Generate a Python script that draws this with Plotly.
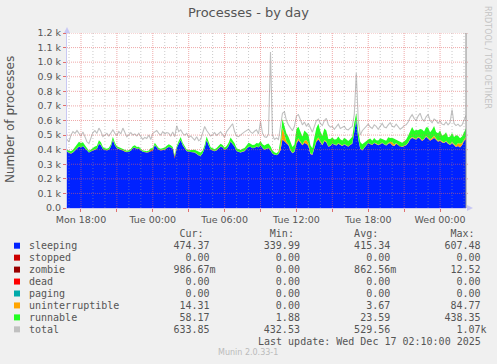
import pandas as pd
import plotly.graph_objects as go

# ---------------- data (10-minute samples, Mon 16:50 -> Wed 02:10) ----------------
start_time = "2025-12-15 16:50"
n_points = 201

sleeping = [
    385, 378, 372, 380, 395, 405, 420, 415, 425, 410,
    395, 380, 388, 395, 400, 405, 440, 430, 405, 398,
    395, 400, 420, 465, 430, 410, 405, 400, 395, 385,
    383, 385, 392, 410, 412, 405, 408, 395, 385, 383,
    380, 383, 388, 395, 430, 415, 400, 395, 398, 400,
    410, 418, 415, 405, 340, 410, 440, 465, 430, 405,
    390, 385, 383, 385, 380, 370, 360, 358, 375, 410,
    465, 430, 400, 395, 390, 395, 410, 420, 415, 400,
    405, 425, 455, 440, 420, 390, 383, 380, 385, 390,
    405, 420, 418, 410, 412, 420, 415, 430, 410, 400,
    405, 410, 395, 372, 365, 362, 370, 395, 470, 455,
    440, 430, 395, 375, 385, 440, 465, 450, 430, 445,
    440, 425, 370, 365, 420, 455, 470, 445, 430, 460,
    450, 420, 425, 440, 432, 428, 440, 430, 425, 435,
    428, 420, 432, 440, 520, 605, 470, 405, 395, 410,
    430, 445, 438, 432, 445, 440, 430, 438, 445, 435,
    428, 440, 445, 430, 425, 440, 432, 420, 418, 425,
    430, 445, 470, 480, 475, 468, 482, 475, 460, 470,
    488, 475, 462, 470, 480, 468, 455, 462, 450, 445,
    455, 440, 432, 445, 430, 418, 425, 415, 430, 460,
    474,
]

runnable = [
    10, 12, 15, 18, 25, 30, 32, 28, 25, 20,
    12, 10, 12, 15, 18, 20, 22, 18, 12, 10,
    10, 12, 15, 20, 15, 12, 10, 12, 10, 8,
    8, 10, 10, 12, 15, 12, 10, 10, 8, 8,
    8, 10, 12, 12, 15, 12, 10, 10, 12, 12,
    15, 18, 15, 12, 10, 12, 18, 20, 15, 12,
    10, 10, 12, 15, 18, 20, 22, 20, 18, 20,
    22, 18, 15, 12, 12, 15, 15, 18, 15, 12,
    18, 22, 25, 25, 22, 18, 15, 15, 18, 20,
    22, 25, 22, 20, 20, 22, 25, 28, 25, 25,
    30, 28, 25, 20, 15, 12, 15, 40, 60, 70,
    55, 50, 45, 40, 45, 90, 80, 60, 55, 70,
    50, 60, 55, 40, 60, 85, 95, 70, 60, 80,
    75, 50, 45, 40, 35, 40, 45, 38, 35, 42,
    40, 35, 38, 45, 60, 40, 50, 45, 40, 35,
    30, 22, 35, 25, 32, 20, 30, 38, 24, 28,
    30, 40, 26, 30, 38, 22, 28, 34, 25, 30,
    35, 45, 55, 68, 50, 62, 45, 60, 72, 50,
    60, 70, 48, 55, 66, 45, 52, 64, 42, 52,
    58, 40, 52, 62, 48, 70, 50, 38, 45, 55,
    58,
]

uninterruptible = [
    1, 1, 2, 1, 0, 1, 2, 1, 1, 0,
    1, 1, 0, 1, 2, 1, 1, 2, 1, 1,
    0, 1, 1, 2, 1, 1, 0, 1, 1, 1,
    1, 0, 1, 1, 2, 1, 1, 1, 0, 1,
    1, 1, 2, 1, 1, 0, 1, 1, 1, 2,
    1, 1, 0, 1, 2, 1, 1, 1, 2, 1,
    1, 0, 1, 1, 1, 2, 1, 1, 0, 1,
    2, 1, 1, 1, 0, 1, 1, 2, 1, 1,
    1, 1, 2, 1, 1, 0, 1, 1, 2, 1,
    1, 1, 0, 1, 1, 2, 1, 1, 1, 2,
    2, 3, 2, 1, 1, 1, 2, 30, 80, 40,
    15, 8, 5, 3, 4, 10, 12, 5, 4, 15,
    25, 18, 5, 3, 5, 8, 12, 10, 5, 6,
    5, 3, 3, 2, 2, 3, 4, 3, 2, 3,
    2, 3, 2, 3, 4, 5, 3, 2, 2, 2,
    3, 2, 2, 3, 2, 3, 2, 2, 3, 2,
    3, 4, 8, 20, 10, 4, 3, 2, 3, 2,
    3, 4, 5, 6, 5, 4, 5, 6, 5, 4,
    5, 6, 8, 10, 15, 8, 5, 4, 5, 4,
    5, 4, 5, 6, 8, 10, 20, 25, 15, 10,
    14,
]

zombie = [
    1, 1, 1, 1, 1, 1, 1, 1, 0, 1,
    1, 1, 1, 1, 1, 1, 1, 1, 1, 1,
    1, 1, 1, 1, 1, 0, 1, 1, 1, 1,
    1, 1, 1, 1, 1, 1, 1, 1, 1, 1,
    1, 1, 8, 1, 1, 1, 1, 1, 1, 1,
    1, 1, 1, 1, 12, 1, 1, 1, 1, 1,
    1, 1, 1, 0, 1, 1, 1, 1, 1, 1,
    1, 1, 1, 1, 1, 1, 1, 1, 1, 1,
    1, 0, 1, 1, 1, 1, 1, 1, 1, 1,
    1, 1, 1, 1, 1, 1, 1, 1, 1, 1,
    1, 1, 1, 1, 1, 1, 0, 1, 1, 1,
    1, 1, 1, 1, 1, 1, 1, 1, 1, 1,
    1, 1, 1, 1, 1, 1, 1, 1, 1, 0,
    1, 1, 1, 1, 1, 1, 1, 1, 1, 1,
    1, 1, 1, 1, 1, 1, 1, 1, 1, 1,
    1, 0, 1, 1, 1, 1, 1, 1, 1, 1,
    1, 1, 1, 1, 1, 1, 1, 1, 1, 1,
    1, 1, 1, 1, 0, 1, 1, 1, 1, 1,
    1, 1, 1, 1, 1, 1, 1, 1, 1, 1,
    1, 1, 1, 1, 1, 1, 1, 1, 1, 1,
    1,
]

stopped = [0.0] * n_points
dead = [0.0] * n_points
paging = [0.0] * n_points

total = [
    470, 454, 500, 524, 512, 531, 512, 494, 522, 489,
    454, 442, 484, 517, 531, 512, 548, 524, 489, 500,
    512, 494, 517, 536, 512, 498, 524, 508, 548, 512,
    489, 503, 517, 500, 508, 494, 512, 489, 470, 484,
    477, 500, 470, 512, 524, 531, 512, 500, 524, 508,
    517, 512, 494, 522, 489, 564, 524, 536, 512, 500,
    512, 484, 494, 477, 466, 489, 461, 470, 512, 559,
    531, 512, 494, 503, 517, 498, 512, 522, 503, 484,
    524, 540, 559, 578, 524, 494, 489, 503, 512, 522,
    531, 540, 522, 512, 526, 536, 508, 595, 512, 489,
    484, 505, 1070, 500, 470, 480, 470, 560, 650, 660,
    600, 570, 545, 530, 560, 630, 640, 600, 570, 590,
    560, 580, 545, 520, 560, 600, 610, 580, 565, 600,
    615, 570, 555, 560, 540, 555, 575, 545, 550, 560,
    540, 535, 550, 560, 640, 926, 600, 500, 530, 545,
    560, 575, 555, 545, 570, 560, 540, 565, 580, 555,
    550, 570, 585, 560, 555, 575, 560, 540, 550, 565,
    570, 590, 620, 640, 615, 600, 630, 650, 610, 595,
    625, 640, 600, 585, 610, 600, 580, 595, 575, 570,
    590, 570, 585, 675, 580, 565, 575, 560, 570, 610,
    634,
]

# legend table values (as shown)
legend_names = ["sleeping", "stopped", "zombie", "dead", "paging",
                "uninterruptible", "runnable", "total"]
legend_colors = ["#0022ff", "#cc0000", "#990000", "#ff0000", "#00aaaa",
                 "#ffa500", "#22ff22", "#c0c0c0"]
cur_vals = ["474.37", "0.00", "986.67m", "0.00", "0.00", "14.31", "58.17", "633.85"]
min_vals = ["339.99", "0.00", "0.00", "0.00", "0.00", "0.00", "1.88", "432.53"]
avg_vals = ["415.34", "0.00", "862.56m", "0.00", "0.00", "3.67", "23.59", "529.56"]
max_vals = ["607.48", "0.00", "12.52", "0.00", "0.00", "84.77", "438.35", "1.07k"]

y_tick_vals = [0, 100, 200, 300, 400, 500, 600, 700, 800, 900, 1000, 1100, 1200]
y_tick_text = ["0.0", "0.1 k", "0.2 k", "0.3 k", "0.4 k", "0.5 k", "0.6 k",
               "0.7 k", "0.8 k", "0.9 k", "1.0 k", "1.1 k", "1.2 k"]
x_tick_vals = ["2025-12-15 18:00", "2025-12-15 21:00", "2025-12-16 00:00",
               "2025-12-16 03:00", "2025-12-16 06:00", "2025-12-16 09:00",
               "2025-12-16 12:00", "2025-12-16 15:00", "2025-12-16 18:00",
               "2025-12-16 21:00", "2025-12-17 00:00"]
x_tick_text = ["Mon 18:00", "", "Tue 00:00", "", "Tue 06:00", "",
               "Tue 12:00", "", "Tue 18:00", "", "Wed 00:00"]
x_range = ["2025-12-15 16:50", "2025-12-17 02:10"]

times = pd.date_range(start_time, periods=n_points, freq="10min")

# ---------------- geometry helpers ----------------
W, H = 497, 364
L, R, T, B = 67, 466, 33, 208


def px(x):
    return (x - L) / (R - L)


def py(y):
    return (B - y) / (B - T)


TXT = "#555555"
SANS = "DejaVu Sans"
MONO = "DejaVu Sans Mono"

fig = go.Figure()

stack = [
    ("sleeping", sleeping), ("stopped", stopped), ("zombie", zombie),
    ("dead", dead), ("paging", paging), ("uninterruptible", uninterruptible),
    ("runnable", runnable),
]
for name, vals in stack:
    col = legend_colors[legend_names.index(name)]
    fig.add_trace(go.Scatter(
        x=times, y=vals, name=name, mode="lines", stackgroup="procs",
        line=dict(width=0, color=col), fillcolor=col,
        showlegend=False, hoverinfo="skip"))

fig.add_trace(go.Scatter(
    x=times, y=total, name="total", mode="lines",
    line=dict(color="#c0c0c0", width=1.1), showlegend=False, hoverinfo="skip"))

shapes = []
# horizontal grid (above areas, like rrdtool)
for v in y_tick_vals[1:]:
    shapes.append(dict(type="line", xref="paper", yref="y",
                       x0=px(L), x1=px(R + 3), y0=v, y1=v, layer="above",
                       line=dict(color="rgba(225,100,100,0.55)", width=1, dash="1px,1px")))
# vertical grid: hourly minor, 3-hourly major
for h in pd.date_range("2025-12-15 17:00", "2025-12-17 02:00", freq="h"):
    major = h.hour % 3 == 0
    shapes.append(dict(type="line", xref="x", yref="paper",
                       x0=h, x1=h, y0=0, y1=1, layer="above",
                       line=dict(color="rgba(225,100,100,0.55)" if major else "rgba(150,150,150,0.5)",
                                 width=1, dash="1px,1px" if major else "1px,2px")))
# right frame line
shapes.append(dict(type="line", xref="paper", yref="paper", x0=1, x1=1, y0=0, y1=1,
                   layer="above", line=dict(color="#8c8c8c", width=1)))
# axis arrows
ax_col = "#c8c8f4"
shapes.append(dict(type="path", xref="paper", yref="paper", layer="above",
                   path=f"M {px(67)},{py(27)} L {px(64)},{py(33)} L {px(70)},{py(33)} Z",
                   fillcolor=ax_col, line=dict(width=0)))
shapes.append(dict(type="path", xref="paper", yref="paper", layer="above",
                   path=f"M {px(473)},{py(208)} L {px(467)},{py(205)} L {px(467)},{py(211)} Z",
                   fillcolor=ax_col, line=dict(width=0)))

annotations = []
# title
annotations.append(dict(text="Processes - by day", xref="paper", yref="paper",
                        x=px(248.5), y=py(13), xanchor="center", yanchor="middle",
                        showarrow=False, font=dict(family=SANS, size=13, color=TXT)))
# y title
annotations.append(dict(text="Number of processes", xref="paper", yref="paper",
                        x=px(10), y=py(120), xanchor="center", yanchor="middle",
                        textangle=-90, showarrow=False,
                        font=dict(family=SANS, size=12, color=TXT)))
# watermark
annotations.append(dict(text="RRDTOOL / TOBI OETIKER", xref="paper", yref="paper",
                        x=px(488), y=py(57), xanchor="center", yanchor="middle",
                        textangle=90, showarrow=False,
                        font=dict(family=SANS, size=8, color="#c4c4c4")))

# legend table
X0 = 26.7
header = " " * 25 + "Cur:" + " " * 11 + "Min:" + " " * 10 + "Avg:" + " " * 12 + "Max:"
annotations.append(dict(text=header.replace(" ", "\u00a0"), xref="paper", yref="paper",
                        x=px(X0), y=py(233.3), xanchor="left", yanchor="middle",
                        showarrow=False, font=dict(family=MONO, size=10, color=TXT)))


def cell(s):
    if s[-1].isalpha():
        num, suf = s[:-1], s[-1]
    else:
        num, suf = s, " "
    return num.rjust(6) + suf + " " * 8


row_y0, row_dy = 245.7, 11.95
for k, name in enumerate(legend_names):
    yy = row_y0 + k * row_dy
    line = name.ljust(24) + cell(cur_vals[k]) + cell(min_vals[k]) + cell(avg_vals[k]) + cell(max_vals[k])
    annotations.append(dict(text=line.rstrip().replace(" ", "\u00a0"), xref="paper", yref="paper",
                            x=px(X0), y=py(yy), xanchor="left", yanchor="middle",
                            showarrow=False, font=dict(family=MONO, size=10, color=TXT)))
    shapes.append(dict(type="rect", xref="paper", yref="paper",
                       x0=px(14), x1=px(20), y0=py(yy + 3), y1=py(yy - 3),
                       fillcolor=legend_colors[k], line=dict(width=0)))

annotations.append(dict(text="Last\u00a0update:\u00a0Wed\u00a0Dec\u00a017\u00a002:10:00\u00a02025",
                        xref="paper", yref="paper", x=px(483.5), y=py(341.7),
                        xanchor="right", yanchor="middle", showarrow=False,
                        font=dict(family=MONO, size=10, color=TXT)))
annotations.append(dict(text="Munin 2.0.33-1", xref="paper", yref="paper",
                        x=px(248), y=py(352.7), xanchor="center", yanchor="middle",
                        showarrow=False, font=dict(family=SANS, size=8, color="#bbbbbb")))

fig.update_layout(
    width=W, height=H, autosize=False,
    margin=dict(l=L, r=W - R, t=T, b=H - B, pad=0),
    paper_bgcolor="#f0f0f0", plot_bgcolor="#ffffff",
    showlegend=False,
    shapes=shapes, annotations=annotations,
    xaxis=dict(type="date", range=x_range, showgrid=False, zeroline=False,
               showline=True, linecolor=ax_col, linewidth=1,
               tickmode="array", tickvals=x_tick_vals, ticktext=x_tick_text,
               ticks="outside", ticklen=3, tickcolor="#e07070", tickwidth=1,
               tickfont=dict(family=SANS, size=9.5, color=TXT), fixedrange=True),
    yaxis=dict(range=[0, 1200], showgrid=False, zeroline=False,
               showline=True, linecolor=ax_col, linewidth=1,
               tickmode="array", tickvals=y_tick_vals, ticktext=y_tick_text,
               ticks="outside", ticklen=3, tickcolor="#e07070", tickwidth=1,
               tickfont=dict(family=SANS, size=9.5, color=TXT), fixedrange=True),
)

fig.write_html("out.html",
               config={"displayModeBar": False, "staticPlot": True},
               post_script="document.body.style.margin='0';document.body.style.padding='0';"
                           "document.body.style.overflow='hidden';"
                           "document.body.style.background='#f0f0f0';")
